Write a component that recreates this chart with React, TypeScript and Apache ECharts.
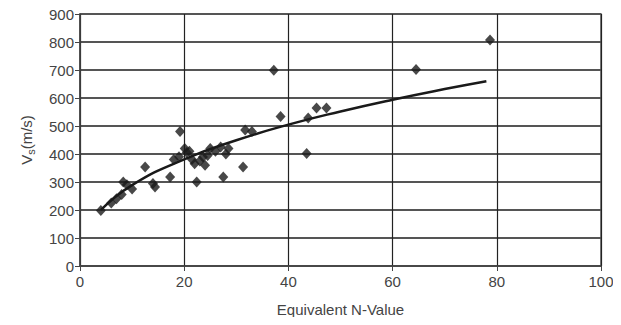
import React, { useEffect, useRef } from "react";
import * as echarts from "echarts";

const nValues = [4, 6, 7, 8, 8.3, 9, 10, 12.5, 14, 14.4, 17.3, 18, 19.2, 19, 20.1, 20.5, 21, 21.5, 22, 22.4, 23, 23.6, 24, 24.5, 25, 26, 27, 27.5, 28, 28.5, 31.3, 31.7, 33, 37.2, 38.5, 43.5, 43.8, 45.4, 47.3, 64.5, 78.7];
const vsValues = [198, 225, 240, 255, 300, 290, 275, 354, 295, 282, 318, 380, 480, 390, 420, 405, 410, 380, 365, 300, 375, 389, 360, 395, 420, 410, 425, 318, 400, 420, 354, 486, 480, 699, 534, 402, 529, 564, 564, 702, 807];

const trendN = [4, 10, 20, 30, 40, 50, 60, 70, 78];
const trendVs = [200, 289, 381, 449, 505, 552, 594, 632, 660];

const xTicks = [0, 20, 40, 60, 80, 100];
const yTicks = [0, 100, 200, 300, 400, 500, 600, 700, 800, 900];

export default function App() {
  const ref = useRef<HTMLDivElement>(null);
  useEffect(() => {
    if (!ref.current) return;
    const chart = echarts.init(ref.current, undefined, { renderer: "svg" });
    const font = "'Liberation Sans', Arial, sans-serif";
    chart.setOption({
      animation: false,
      backgroundColor: "#ffffff",
      grid: { left: 80, right: 20, top: 14, bottom: 59, show: true, borderColor: "#555", borderWidth: 1.5 },
      xAxis: {
        type: "value",
        min: xTicks[0],
        max: xTicks[xTicks.length - 1],
        interval: 20,
        name: "Equivalent N-Value",
        nameLocation: "middle",
        nameGap: 36,
        nameTextStyle: { fontFamily: font, fontSize: 15, color: "#444" },
        axisLine: { show: true, lineStyle: { color: "#444", width: 1.5 } },
        axisTick: { show: true, length: 5, lineStyle: { color: "#444" } },
        axisLabel: { fontFamily: font, fontSize: 15, color: "#444", margin: 8 },
        splitLine: { show: true, lineStyle: { color: "#222", width: 1.2 } },
      },
      yAxis: {
        type: "value",
        min: yTicks[0],
        max: yTicks[yTicks.length - 1],
        interval: 100,
        name: "{a|V}{b|s}{a|(m/s)}",
        nameLocation: "middle",
        nameGap: 44,
        nameRotate: 90,
        nameTextStyle: {
          fontFamily: font,
          color: "#444",
          rich: {
            a: { fontFamily: font, fontSize: 15, color: "#444" },
            b: { fontFamily: font, fontSize: 11, color: "#444", padding: [8, 0, 0, 0] },
          },
        },
        axisLine: { show: true, lineStyle: { color: "#444", width: 1.5 } },
        axisTick: { show: true, length: 5, lineStyle: { color: "#444" } },
        axisLabel: { fontFamily: font, fontSize: 15, color: "#444", margin: 6 },
        splitLine: { show: true, lineStyle: { color: "#555", width: 2 } },
      },
      series: [
        {
          type: "line",
          data: trendN.map((n, i) => [n, trendVs[i]]),
          smooth: true,
          symbol: "none",
          lineStyle: { color: "#1a1a1a", width: 2.5 },
          z: 3,
        },
        {
          type: "scatter",
          data: nValues.map((n, i) => [n, vsValues[i]]),
          symbol: "diamond",
          symbolSize: [10, 11],
          itemStyle: { color: "#1a1a1a" },
          z: 4,
        },
      ],
    });
    return () => chart.dispose();
  }, []);
  return <div ref={ref} style={{ width: 621, height: 325, margin: -8 }} />;
}
